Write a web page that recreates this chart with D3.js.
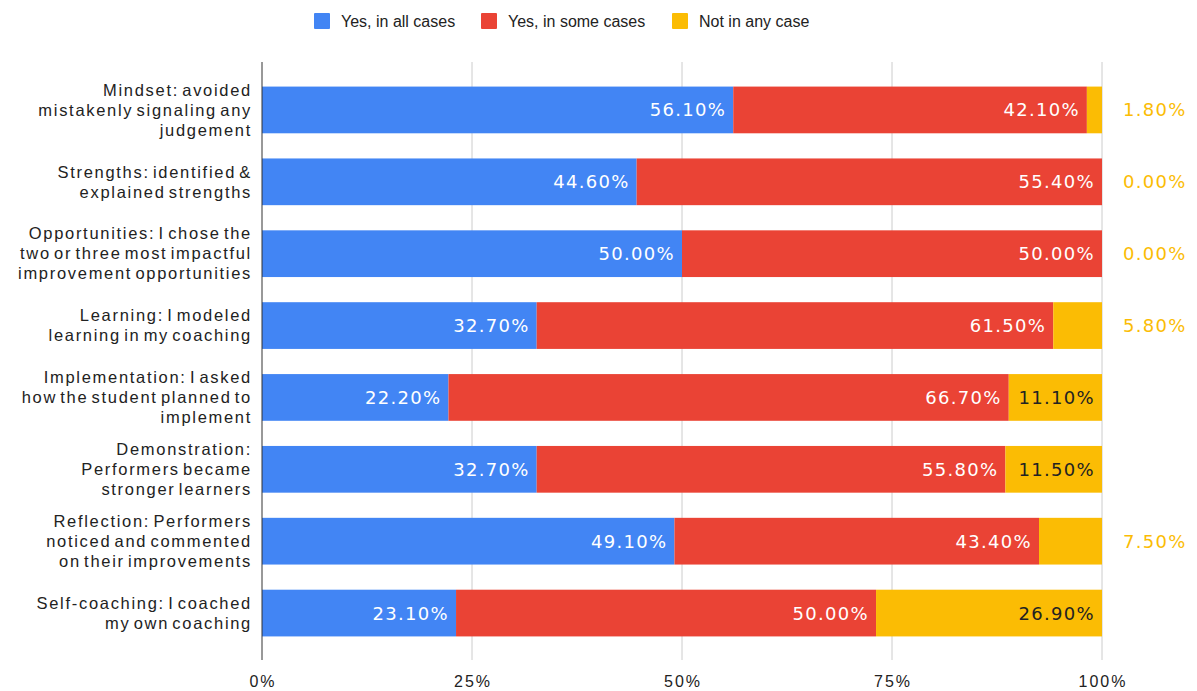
<!DOCTYPE html>
<html>
<head>
<meta charset="utf-8">
<script src="https://cdn.jsdelivr.net/npm/d3@7"></script>
<style>
  body { margin: 0; background: #fff; }
  svg { display: block; }
</style>
</head>
<body>
<div id="chart"></div>
<script>
// chart data
const categories = [
    ["Mindset: avoided", "mistakenly signaling any", "judgement"],
    ["Strengths: identified &", "explained strengths"],
    ["Opportunities: I chose the", "two or three most impactful", "improvement opportunities"],
    ["Learning: I modeled", "learning in my coaching"],
    ["Implementation: I asked", "how the student planned to", "implement"],
    ["Demonstration:", "Performers became", "stronger learners"],
    ["Reflection: Performers", "noticed and commented", "on their improvements"],
    ["Self-coaching: I coached", "my own coaching"]
];
const seriesNames = ["Yes, in all cases", "Yes, in some cases", "Not in any case"];
const allCases = [56.1, 44.6, 50.0, 32.7, 22.2, 32.7, 49.1, 23.1];
const someCases = [42.1, 55.4, 50.0, 61.5, 66.7, 55.8, 43.4, 50.0];
const noCase = [1.8, 0.0, 0.0, 5.8, 11.1, 11.5, 7.5, 26.9];
const tickValues = [0, 25, 50, 75, 100];

const colors = ["#4285f4", "#ea4335", "#fbbc04"];
const labelColors = ["#fff", "#fff", "#222"];

const width = 1197;
const height = 691;
const margin = { top: 62, right: 95, bottom: 31, left: 262 };
const sansFont = "'Liberation Sans', Arial, sans-serif";
const valueFont = "'DejaVu Sans', Verdana, sans-serif";

const svg = d3.select("#chart")
    .append("svg")
    .attr("width", width)
    .attr("height", height);

const x = d3.scaleLinear()
    .domain([0, 100])
    .range([margin.left, width - margin.right]);

const y = d3.scaleBand()
    .domain(d3.range(categories.length))
    .range([74, 649])
    .paddingInner(0.35)
    .paddingOuter(0.175);

// gridlines
svg.append("g")
    .selectAll("line")
    .data(tickValues.slice(1))
    .enter()
    .append("line")
    .attr("x1", d => x(d))
    .attr("x2", d => x(d))
    .attr("y1", margin.top)
    .attr("y2", height - margin.bottom)
    .attr("stroke", "#cccccc")
    .attr("stroke-width", 1);

// tick labels
svg.append("g")
    .selectAll("text")
    .data(tickValues)
    .enter()
    .append("text")
    .attr("x", d => x(d) + 1)
    .attr("y", 687)
    .attr("text-anchor", "middle")
    .style("font-family", sansFont)
    .style("font-size", "16px")
    .style("letter-spacing", "2px")
    .style("fill", "#222")
    .text(d => d + "%");

// stacked rows
const rows = categories.map((c, i) => {
    const vals = [allCases[i], someCases[i], noCase[i]];
    let acc = 0;
    return vals.map((v, k) => {
        const seg = { row: i, k: k, v: v, x0: acc, x1: acc + v };
        acc += v;
        return seg;
    });
});
const segments = rows.flat();

svg.append("g")
    .selectAll("rect")
    .data(segments.filter(d => d.v > 0))
    .enter()
    .append("rect")
    .attr("x", d => x(d.x0))
    .attr("y", d => y(d.row))
    .attr("width", d => x(d.x1) - x(d.x0))
    .attr("height", y.bandwidth())
    .attr("fill", d => colors[d.k]);

// value labels, small segments get theirs outside the plot
svg.append("g")
    .selectAll("text")
    .data(segments)
    .enter()
    .append("text")
    .each(function (d) {
        const inside = d.v >= 10;
        const t = d3.select(this)
            .attr("y", y(d.row) + y.bandwidth() / 2)
            .attr("dy", "0.36em")
            .style("font-family", valueFont)
            .style("font-size", "18px")
            .style("letter-spacing", "1.3px")
            .text(d.v.toFixed(2) + "%");
        if (inside) {
            t.attr("x", x(d.x1) - 7)
                .attr("text-anchor", "end")
                .style("fill", labelColors[d.k]);
        } else {
            t.attr("x", x(100) + 21)
                .attr("text-anchor", "start")
                .style("fill", colors[d.k]);
        }
    });

// axis line
svg.append("line")
    .attr("x1", x(0))
    .attr("x2", x(0))
    .attr("y1", margin.top)
    .attr("y2", height - margin.bottom)
    .attr("stroke", "#333")
    .attr("stroke-width", 1);

// category labels
const catG = svg.append("g");
categories.forEach((lines, i) => {
    const cy = y(i) + y.bandwidth() / 2;
    const lh = 20;
    const t = catG.append("text")
        .attr("text-anchor", "end")
        .style("font-family", sansFont)
        .style("font-size", "16.5px")
        .style("letter-spacing", "1.7px")
        .style("word-spacing", "-3px")
        .style("fill", "#222");
    lines.forEach((line, j) => {
        t.append("tspan")
            .attr("x", 252)
            .attr("y", cy + (j - (lines.length - 1) / 2) * lh)
            .attr("dy", "0.35em")
            .text(line);
    });
});

// legend
const legendX = [314, 481, 672];
const legend = svg.append("g");
seriesNames.forEach((name, i) => {
    legend.append("rect")
        .attr("x", legendX[i])
        .attr("y", 13)
        .attr("width", 16)
        .attr("height", 16)
        .attr("rx", 1)
        .attr("fill", colors[i]);
    legend.append("text")
        .attr("x", legendX[i] + 27)
        .attr("y", 21)
        .attr("dy", "0.35em")
        .style("font-family", sansFont)
        .style("font-size", "16px")
        .style("fill", "#222")
        .text(name);
});
</script>
</body>
</html>
